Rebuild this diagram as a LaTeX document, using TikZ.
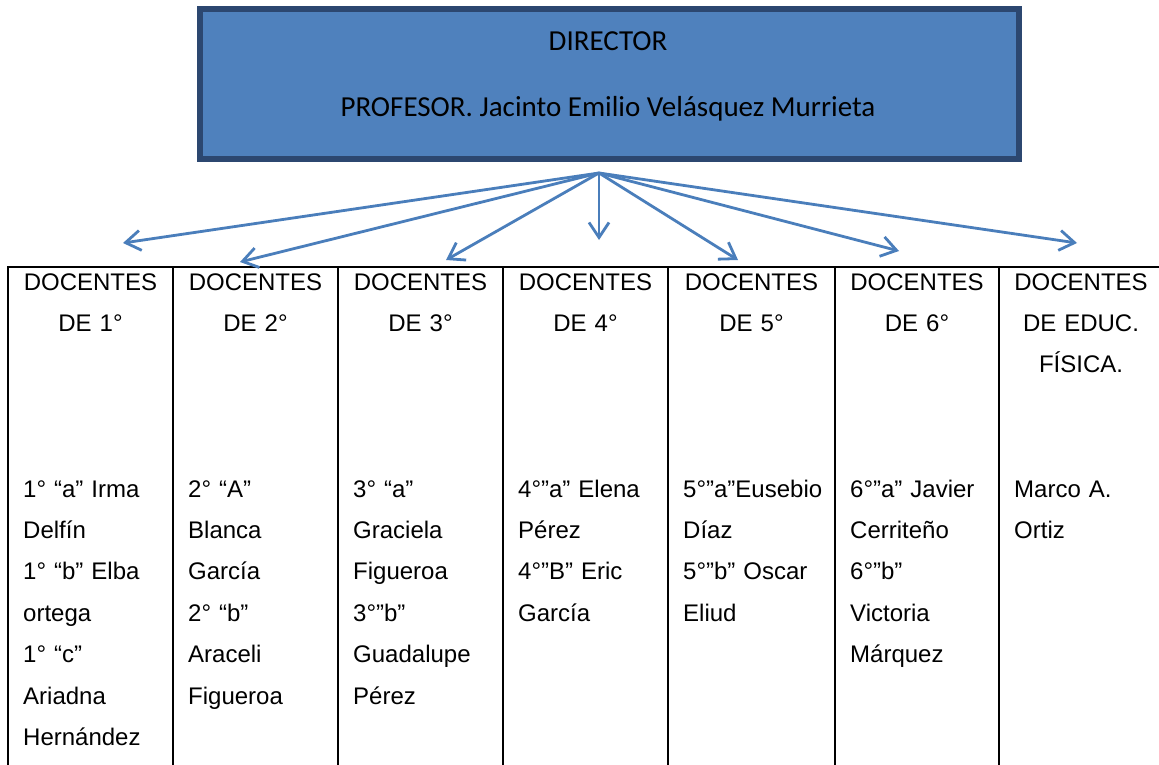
\documentclass[tikz,border=0pt]{standalone}
\usepackage{fontspec}
\setmainfont{Liberation Sans}
\newfontfamily\boxfont{Carlito}
\usetikzlibrary{arrows.meta}
\definecolor{boxblue}{HTML}{4F81BD}
\definecolor{boxedge}{HTML}{2C4770}
\definecolor{linkblue}{HTML}{4A7EBB}

\begin{document}
\begin{tikzpicture}[
      x=1pt, y=-1pt,
      head/.style={
        inner sep=0pt, text width=160pt, align=center, anchor=base,
        font=\fontsize{24}{41.4}\selectfont
      },
      names/.style={
        inner sep=0pt, text width=150pt, align=left, anchor=base west,
        font=\fontsize{24}{41.4}\selectfont
      },
      link/.style={
        draw=linkblue, line width=2.8pt,
        -{Straight Barb[length=15pt,width=20pt]}
      },
      rule/.style={draw=black, line width=2pt}
      ]

  \useasboundingbox[fill=white] (0,0) rectangle (1159,765);

	  \node[draw=boxedge, line width=6pt, fill=boxblue,
	    minimum width=819pt, minimum height=150pt, inner sep=0pt] (dir) at (609.5,84) {};
	  \node[font=\boxfont\fontsize{29}{35}\selectfont, anchor=base] (dirtitle) at (608,51) {DIRECTOR};
	  \node[font=\boxfont\fontsize{29}{35}\selectfont, anchor=base] (dirname) at (608,117)
	    {PROFESOR. Jacinto Emilio Velásquez Murrieta};

  % table rules
  \draw[rule] (8,267) -- (1159,267);
  \draw[rule] (8,266) -- (8,765);
  \draw[rule] (173,267) -- (173,765);
  \draw[rule] (338,267) -- (338,765);
  \draw[rule] (503,267) -- (503,765);
  \draw[rule] (668,267) -- (668,765);
  \draw[rule] (835,267) -- (835,765);
  \draw[rule] (999,267) -- (999,765);

  % headings
	  \node[head] (h1) at (90.5,290) {DOCENTES\\DE 1°};
	  \node[head] (h2) at (255.5,290) {DOCENTES\\DE 2°};
	  \node[head] (h3) at (420.5,290) {DOCENTES\\DE 3°};
	  \node[head] (h4) at (585.5,290) {DOCENTES\\DE 4°};
	  \node[head] (h5) at (751.5,290) {DOCENTES\\DE 5°};
	  \node[head] (h6) at (917,290) {DOCENTES\\DE 6°};
	  \node[head] (h7) at (1081,290) {DOCENTES\\DE EDUC.\\FÍSICA.};

  % teachers
	  \node[names] (n1) at (23,497) {1° “a” Irma\\Delfín\\1° “b” Elba\\ortega\\1° “c”\\Ariadna\\Hernández};
	  \node[names] (n2) at (188,497) {2° “A”\\Blanca\\García\\2° “b”\\Araceli\\Figueroa};
	  \node[names] (n3) at (353,497) {3° “a”\\Graciela\\Figueroa\\3°”b”\\Guadalupe\\Pérez};
	  \node[names] (n4) at (518,497) {4°”a” Elena\\Pérez\\4°”B” Eric\\García};
	  \node[names] (n5) at (683,497) {5°”a”Eusebio\\Díaz\\5°”b” Oscar\\Eliud};
	  \node[names] (n6) at (850,497) {6°”a” Javier\\Cerriteño\\6°”b”\\Victoria\\Márquez};
	  \node[names] (n7) at (1014,497) {Marco A.\\Ortiz};

  % Connect the nodes
  \coordinate (hub) at (599,173);
  \coordinate (t1) at (123,243);
  \coordinate (t2) at (240,262);
  \coordinate (t3) at (446,260);
  \coordinate (t4) at (599,240);
  \coordinate (t5) at (738,260);
  \coordinate (t6) at (899,251);
  \coordinate (t7) at (1077,243);

  \draw[link] (hub) -- (t1);
  \draw[link] (hub) -- (t2);
  \draw[link] (hub) -- (t3);
  \draw[link] (hub) -- (t4);
  \draw[link] (hub) -- (t5);
  \draw[link] (hub) -- (t6);
  \draw[link] (hub) -- (t7);

\end{tikzpicture}
\end{document}
